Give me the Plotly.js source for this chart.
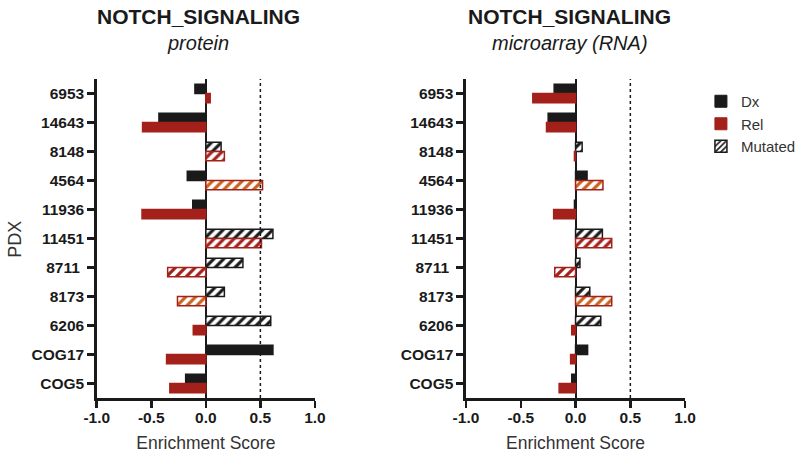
<!DOCTYPE html>
<html>
<head>
<meta charset="utf-8">
<script src="https://cdn.plot.ly/plotly-3.0.1.min.js"></script>
<style>html,body{margin:0;padding:0;background:#fff;overflow:hidden;}#chart{width:801px;height:457px;}</style>
</head>
<body>
<div id="chart"></div>
<script>
// Data
const categories = ['6953','14643','8148','4564','11936','11451','8711 ','8173','6206','COG17','COG5'];
const proteinDx  = [-0.10, -0.43, 0.14, -0.17, -0.12, 0.615, 0.34, 0.17, 0.595, 0.615, -0.185];
const proteinRel = [0.04, -0.58, 0.17, 0.52, -0.585, 0.51, -0.35, -0.26, -0.115, -0.36, -0.33];
const rnaDx      = [-0.195, -0.25, 0.06, 0.105, -0.01, 0.245, 0.04, 0.13, 0.23, 0.11, -0.035];
const rnaRel     = [-0.39, -0.265, -0.01, 0.25, -0.20, 0.33, -0.19, 0.33, -0.035, -0.045, -0.15];
// mutated flags per category
const mutatedDx  = [false,false,true,false,false,true,true,true,true,false,false];
const mutatedRel = [false,false,true,true,false,true,true,true,false,false,false];
// Rel mutated drawn with orange hatch
const orangeRel  = [false,false,false,true,false,false,false,true,false,false,false];
const xTicks = [-1.0, -0.5, 0.0, 0.5, 1.0];
const xTickLabels = ['-1.0','-0.5','0.0','0.5','1.0'];
const panelTitles = ['NOTCH_SIGNALING','NOTCH_SIGNALING'];
const panelSubtitles = ['protein','microarray (RNA)'];
const legendNames = ['Dx','Rel','Mutated'];

const BLACK = '#1a1a1a', RED = '#a3201b', ORANGE = '#c8621c';
const FONT = 'Liberation Sans, Arial, sans-serif';
const W = 783; // effective horizontal extent observed for paper fractions

function pick(vals, mask) { return vals.map((v, i) => mask[i] ? v : null); }

function panelTraces(dx, rel, xa, ya) {
  const solidDx = mutatedDx.map(m => !m);
  const solidRel = mutatedRel.map(m => !m);
  const redHatch = mutatedRel.map((m, i) => m && !orangeRel[i]);
  const orHatch = mutatedRel.map((m, i) => m && orangeRel[i]);
  const base = {type:'bar', orientation:'h', y:categories, xaxis:xa, yaxis:ya, showlegend:false, hoverinfo:'skip'};
  return [
    Object.assign({}, base, {x: pick(dx, solidDx), offsetgroup:'dx',
      marker:{color:BLACK, line:{color:BLACK, width:1.5}}}),
    Object.assign({}, base, {x: pick(dx, mutatedDx), offsetgroup:'dx',
      marker:{color:'white', line:{color:BLACK, width:1.5},
        pattern:{shape:'/', fgcolor:BLACK, bgcolor:'white', size:7, solidity:0.45}}}),
    Object.assign({}, base, {x: pick(rel, solidRel), offsetgroup:'rel',
      marker:{color:RED, line:{color:RED, width:1.5}}}),
    Object.assign({}, base, {x: pick(rel, redHatch), offsetgroup:'rel',
      marker:{color:'white', line:{color:RED, width:1.5},
        pattern:{shape:'/', fgcolor:RED, bgcolor:'white', size:7, solidity:0.45}}}),
    Object.assign({}, base, {x: pick(rel, orHatch), offsetgroup:'rel',
      marker:{color:'white', line:{color:RED, width:1.5},
        pattern:{shape:'/', fgcolor:ORANGE, bgcolor:'white', size:7, solidity:0.45}}})
  ];
}

const traces = [].concat(
  panelTraces(proteinDx, proteinRel, 'x', 'y'),
  panelTraces(rnaDx, rnaRel, 'x2', 'y2'),
  [
    {type:'bar', x:[null], y:[null], xaxis:'x3', yaxis:'y3', name:legendNames[0], marker:{color:BLACK, line:{color:BLACK,width:1}}},
    {type:'bar', x:[null], y:[null], xaxis:'x3', yaxis:'y3', name:legendNames[1], marker:{color:RED, line:{color:RED,width:1}}},
    {type:'bar', x:[null], y:[null], xaxis:'x3', yaxis:'y3', name:legendNames[2], marker:{color:'white', line:{color:BLACK,width:1.5}, pattern:{shape:'/', fgcolor:BLACK, bgcolor:'white', size:5, solidity:0.4}}}
  ]
);

const yDom = [1-398/457, 1-79/457];
function xAxis(dom, anchor) {
  return {
    domain: dom, anchor: anchor, range:[-1,1], tickvals:xTicks, ticktext:xTickLabels,
    showline:true, linecolor:BLACK, linewidth:2.5, ticks:'outside', ticklen:7, tickwidth:2.5, tickcolor:BLACK,
    showgrid:false, zeroline:true, zerolinecolor:BLACK, zerolinewidth:2,
    tickfont:{family:FONT, size:15.5, color:BLACK, weight:'bold'}, ticklabelstandoff:-3,
    title:{text:'Enrichment Score', font:{family:FONT, size:17.5, color:'#333'}, standoff:12},
    fixedrange:true
  };
}
function yAxis(anchor) {
  return {
    domain: yDom, anchor: anchor, type:'category', range:[10.5,-0.5],
    showline:true, linecolor:BLACK, linewidth:2.5, ticks:'outside', ticklen:7, tickwidth:2.5, tickcolor:BLACK,
    showgrid:false, zeroline:false,
    tickfont:{family:FONT, size:15.5, color:BLACK, weight:'bold'},
    fixedrange:true
  };
}

const layout = {
  width:801, height:457, margin:{l:0,r:0,t:0,b:0},
  paper_bgcolor:'white', plot_bgcolor:'white',
  barmode:'group', bargap:0.36, bargroupgap:0,
  font:{family:FONT},
  xaxis: xAxis([98/W, 319/W], 'y'),
  yaxis: yAxis('x'),
  xaxis2: xAxis([472/W, 694/W], 'y2'),
  yaxis2: yAxis('x2'),
  xaxis3: {domain:[0.99,1], anchor:'y3', visible:false},
  yaxis3: {domain:[0.99,1], anchor:'x3', visible:false},
  showlegend:true,
  legend:{x:710/W, y:1-85/457, xanchor:'left', yanchor:'top', bgcolor:'rgba(0,0,0,0)',
          font:{family:FONT, size:15, color:'#333'}, tracegroupgap:4, itemwidth:30},
  shapes:[
    {type:'line', xref:'x', yref:'y domain', x0:0.5, x1:0.5, y0:0, y1:1, line:{color:BLACK, width:1.5, dash:'dot'}},
    {type:'line', xref:'x2', yref:'y2 domain', x0:0.5, x1:0.5, y0:0, y1:1, line:{color:BLACK, width:1.5, dash:'dot'}}
  ],
  annotations:[
    {text:panelTitles[0], xref:'paper', yref:'paper', x:201/W, y:1-16/457, showarrow:false, xanchor:'center', yanchor:'middle', font:{family:FONT, size:21, color:BLACK, weight:'bold'}},
    {text:'<i>'+panelSubtitles[0]+'</i>', xref:'paper', yref:'paper', x:201/W, y:1-43/457, showarrow:false, xanchor:'center', yanchor:'middle', font:{family:FONT, size:20, color:BLACK}},
    {text:panelTitles[1], xref:'paper', yref:'paper', x:577/W, y:1-16/457, showarrow:false, xanchor:'center', yanchor:'middle', font:{family:FONT, size:21, color:BLACK, weight:'bold'}},
    {text:'<i>'+panelSubtitles[1]+'</i>', xref:'paper', yref:'paper', x:577/W, y:1-43/457, showarrow:false, xanchor:'center', yanchor:'middle', font:{family:FONT, size:20, color:BLACK}},
    {text:'PDX', xref:'paper', yref:'paper', x:15/W, y:1-239/457, showarrow:false, textangle:-90, xanchor:'center', yanchor:'middle', font:{family:FONT, size:18, color:'#333'}}
  ]
};

Plotly.newPlot('chart', traces, layout, {staticPlot:true, displayModeBar:false});
</script>
</body>
</html>
